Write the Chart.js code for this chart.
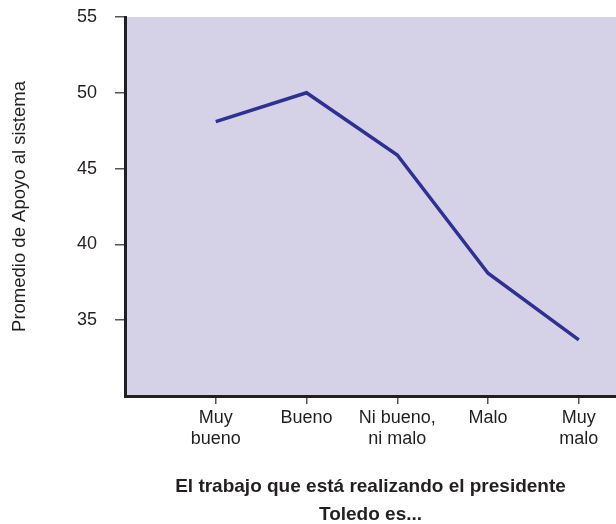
<!DOCTYPE html>
<html>
<head>
<meta charset="utf-8">
<script src="https://cdn.jsdelivr.net/npm/chart.js@4/dist/chart.umd.min.js"></script>
<style>
  html, body { margin: 0; padding: 0; background: #ffffff; overflow: hidden; }
  #wrap { width: 616px; height: 524px; }
</style>
</head>
<body>
<div id="wrap"><canvas id="c" width="616" height="524"></canvas></div>
<script>
// Categories (x tick labels, multi-line)
const categories = [
  ["Muy", "bueno"],
  ["Bueno"],
  ["Ni bueno,", "ni malo"],
  ["Malo"],
  ["Muy", "malo"]
];
// Series values: Promedio de Apoyo al sistema
const apoyo = [48.1, 50.0, 45.9, 38.1, 33.7];
// Y tick values shown
const yTicks = [35, 40, 45, 50, 55];
const yTitle = "Promedio de Apoyo al sistema";
const xTitle = ["El trabajo que está realizando el presidente", "Toledo es..."];

const points = apoyo.map((v, i) => ({ x: i + 1, y: v }));

const plotBg = {
  id: 'plotBg',
  beforeDraw(chart) {
    const { ctx, chartArea: a } = chart;
    ctx.save();
    ctx.fillStyle = '#d5d2e8';
    ctx.fillRect(a.left, a.top, a.right - a.left, a.bottom - a.top);
    ctx.restore();
  }
};

const FONT = "'Liberation Sans', Arial, sans-serif";

new Chart(document.getElementById('c'), {
  type: 'line',
  data: {
    datasets: [{
      data: points,
      borderColor: '#2e3192',
      borderWidth: 3.5,
      pointRadius: 0,
      tension: 0,
      fill: false
    }]
  },
  options: {
    responsive: false,
    animation: false,
    layout: { padding: { top: 17, right: 0, left: 0, bottom: 0 } },
    plugins: { legend: { display: false }, tooltip: { enabled: false } },
    scales: {
      x: {
        type: 'linear',
        min: 0,
        max: 5.41,
        afterFit: s => { s.height = 128; s.paddingLeft = 0; s.paddingRight = 0; },
        ticks: {
          stepSize: 1,
          includeBounds: false,
          autoSkip: false,
          maxRotation: 0,
          padding: 3,
          color: '#231f20',
          font: { family: FONT, size: 18, lineHeight: 1.2 },
          callback: v => (v >= 1 && v <= categories.length && Number.isInteger(v)) ? categories[v - 1] : ''
        },
        grid: {
          drawOnChartArea: false,
          drawTicks: true,
          tickLength: 8,
          lineWidth: 1.5,
          color: ctx => (ctx.tick && ctx.tick.value === 0) ? 'rgba(0,0,0,0)' : '#555555'
        },
        border: { display: true, color: '#231f20', width: 3 },
        title: {
          display: true,
          text: xTitle,
          color: '#231f20',
          font: { family: FONT, size: 19, weight: 'bold', lineHeight: 1.47 },
          padding: { top: 0, bottom: -5 }
        }
      },
      y: {
        min: 30,
        max: 55,
        afterFit: s => { s.width = 125; s.paddingTop = 0; s.paddingBottom = 0; },
        afterBuildTicks: s => { s.ticks = yTicks.map(v => ({ value: v })); },
        ticks: {
          padding: 18,
          color: '#231f20',
          font: { family: FONT, size: 18 }
        },
        grid: {
          drawOnChartArea: false,
          drawTicks: true,
          tickLength: 10,
          lineWidth: 1.5,
          color: '#555555'
        },
        border: { display: true, color: '#231f20', width: 3 },
        title: {
          display: true,
          text: yTitle,
          color: '#231f20',
          font: { family: FONT, size: 18.5, lineHeight: 1.2 },
          padding: { top: 9, bottom: 0 }
        }
      }
    }
  },
  plugins: [plotBg]
});
</script>
</body>
</html>
